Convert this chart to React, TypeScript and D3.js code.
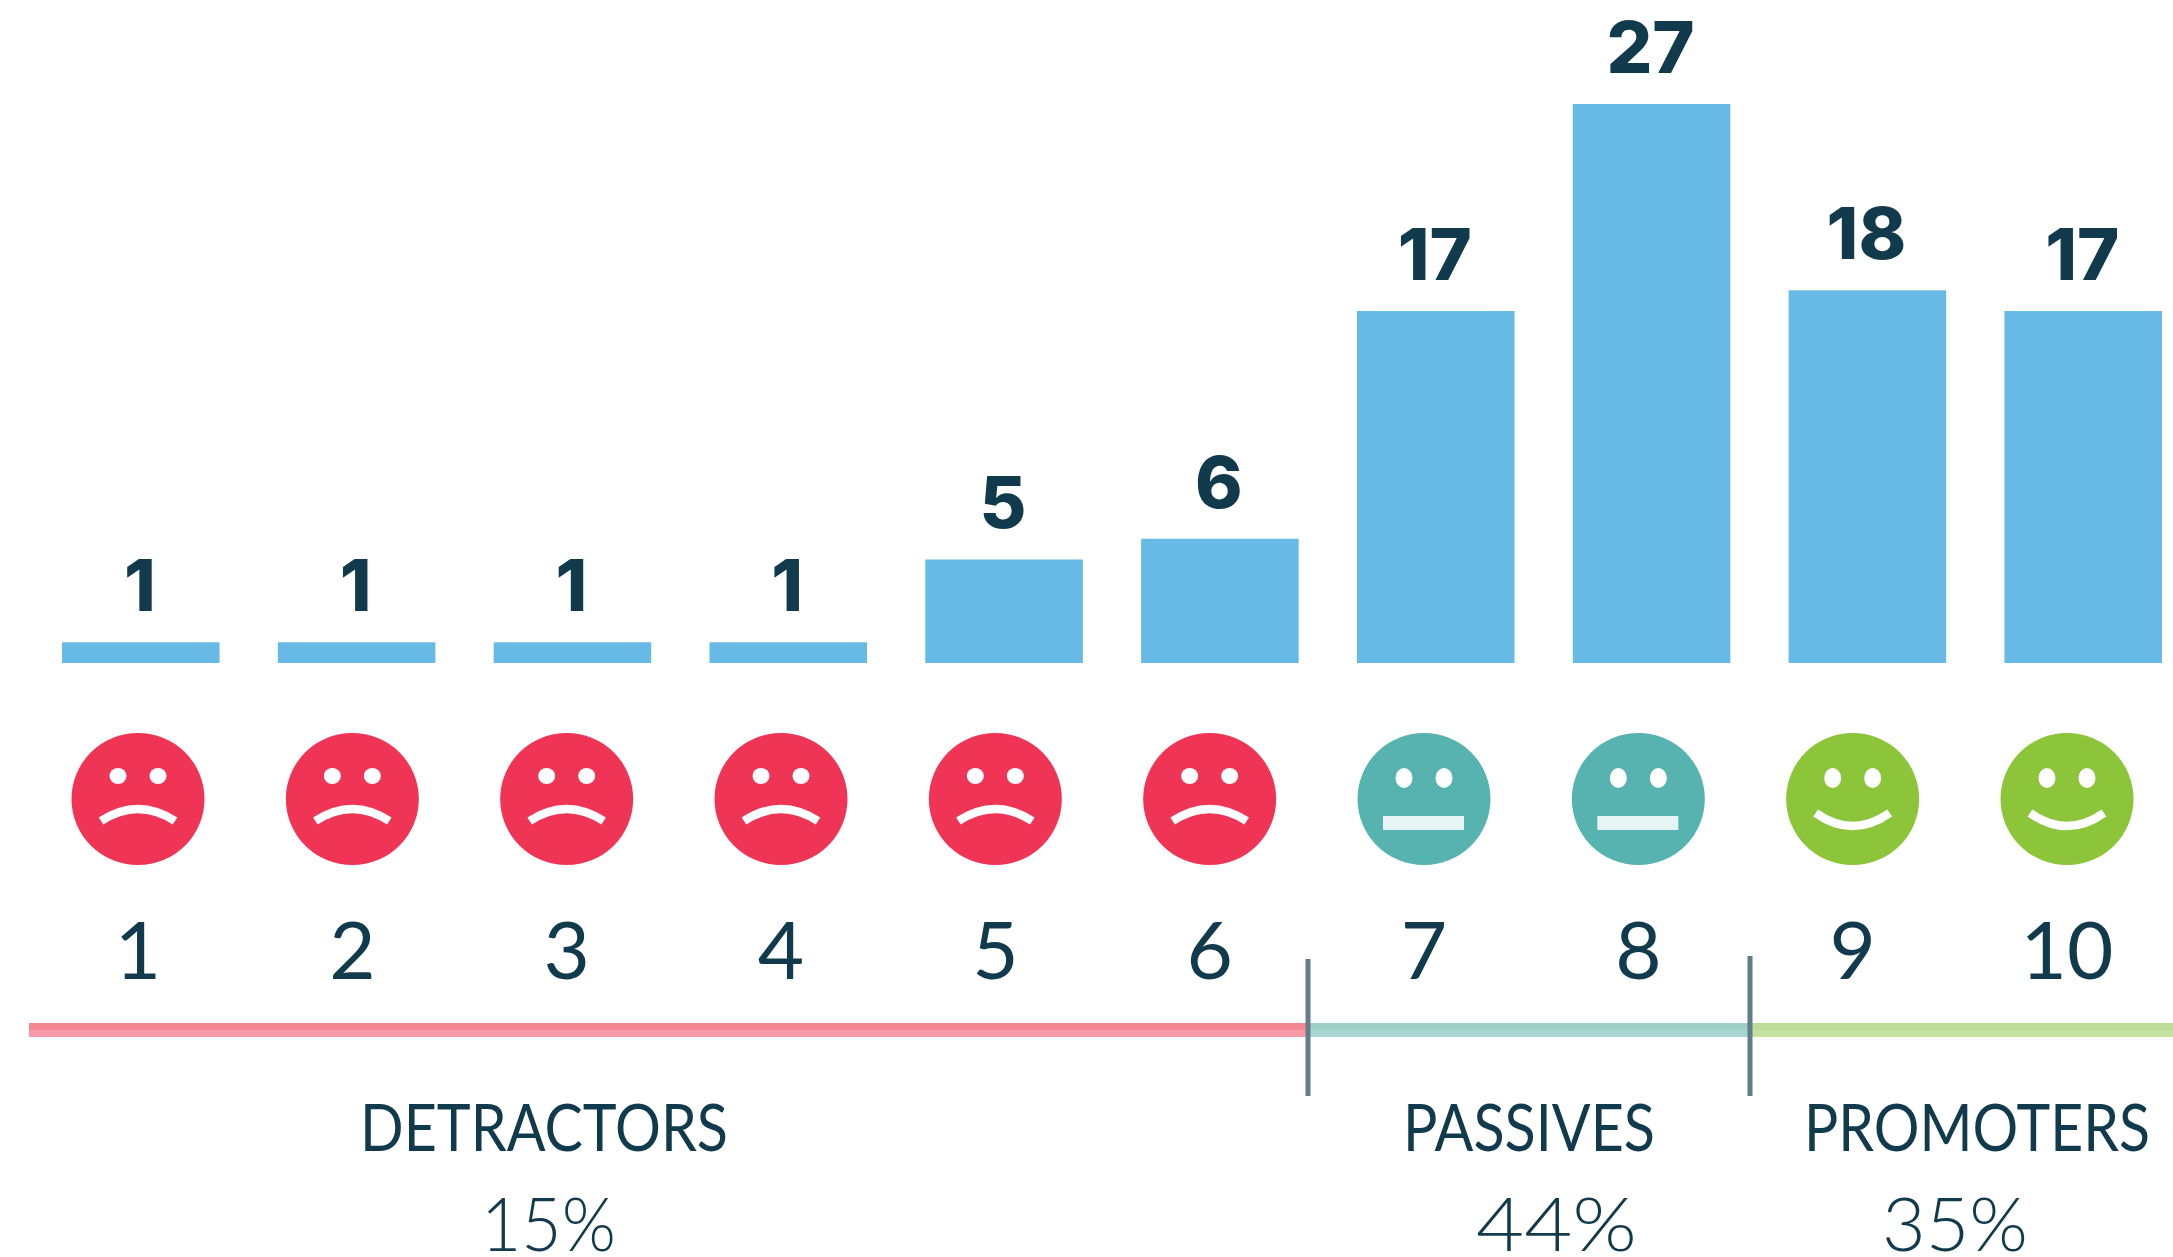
import * as d3 from 'd3'

const scores = ['1', '2', '3', '4', '5', '6', '7', '8', '9', '10']
const counts = [1, 1, 1, 1, 5, 6, 17, 27, 18, 17]
const moods = ['sad', 'sad', 'sad', 'sad', 'sad', 'sad', 'flat', 'flat', 'happy', 'happy']
const groupNames = ['DETRACTORS', 'PASSIVES', 'PROMOTERS']
const groupShares = ['15%', '44%', '35%']

const NAVY = '#123a4d'
const BAR = '#67b9e6'
const moodColor: Record<string, string> = { sad: '#f03455', flat: '#56b3b0', happy: '#8cc43a' }
const lineColor = ['#f4868f', '#9ecfc8', '#bfdc96']
const lineColorLow = ['#f79aa9', '#aad6d0', '#c5e0a0']

// layout of the bottom strip, one entry per group
const lineStart = [29, 1308, 1750]
const lineEnd = [1308, 1750, 2173]
const nameX = [360, 1403, 1804]
const nameW = [368, 252, 346]
const shareX = [481, 1476, 1882]
const shareW = [135, 161, 146]
const dividerTop = [959, 956]
const dividerX = [1308, 1750]

const x = d3.scaleBand<string>().domain(scores).range([62, 2162]).paddingInner(0.27)
const y = d3.scaleLinear().domain([0, 27]).range([663, 104])
const faceX = d3.scalePoint<string>().domain(scores).range([138, 2067])

function mouthPath(mood: string) {
  const p = d3.path()
  if (mood === 'sad') {
    p.moveTo(-37, 22)
    p.quadraticCurveTo(0, -2, 37, 22)
  } else {
    p.moveTo(-37, 14)
    p.quadraticCurveTo(0, 40, 37, 14)
  }
  return p.toString()
}

function Face({ score, mood }: { score: string; mood: string }) {
  const eyeY = mood === 'sad' ? -23 : -21
  const eyeRy = mood === 'sad' ? 8 : 10
  return (
    <g transform={`translate(${faceX(score)},799)`}>
      <ellipse rx={66.5} ry={66} fill={moodColor[mood]} />
      <ellipse cx={-20} cy={eyeY} rx={8.5} ry={eyeRy} fill="#fff" />
      <ellipse cx={20} cy={eyeY} rx={8.5} ry={eyeRy} fill="#fff" />
      {mood === 'flat' ? (
        <rect x={-41} y={17} width={81} height={14} fill="#fff" opacity={0.85} />
      ) : (
        <path d={mouthPath(mood)} fill="none" stroke="#fff" strokeWidth={8.5} />
      )}
    </g>
  )
}

export default function App() {
  return (
    <svg
      width={2173}
      height={1257}
      style={{ position: 'absolute', left: 0, top: 0, display: 'block', background: '#fff' }}
    >
      {counts.map((c, i) => (
        <g key={scores[i]}>
          <rect
            x={x(scores[i])}
            y={y(c)}
            width={x.bandwidth()}
            height={y(0) - y(c)}
            fill={BAR}
          />
          <text
            x={x(scores[i])! + x.bandwidth() / 2 - 1}
            y={y(c) - 31}
            textAnchor="middle"
            fontFamily="Inter"
            fontWeight={800}
            fontSize={72}
            fill={NAVY}
          >
            {c}
          </text>
        </g>
      ))}

      {scores.map((s, i) => (
        <g key={s}>
          <Face score={s} mood={moods[i]} />
          <text
            x={faceX(s)}
            y={979}
            textAnchor="middle"
            fontFamily="Lato"
            fontWeight={400}
            fontSize={80}
            fill={NAVY}
          >
            {s}
          </text>
        </g>
      ))}

      {groupNames.map((name, i) => (
        <g key={name}>
          <rect
            x={lineStart[i]}
            y={1023}
            width={lineEnd[i] - lineStart[i]}
            height={7}
            fill={lineColor[i]}
          />
          <rect
            x={lineStart[i]}
            y={1030}
            width={lineEnd[i] - lineStart[i]}
            height={7}
            fill={lineColorLow[i]}
          />
          <text
            x={nameX[i]}
            y={1151}
            fontFamily="Lato"
            fontWeight={400}
            fontSize={65}
            fill={NAVY}
            textLength={nameW[i]}
            lengthAdjust="spacingAndGlyphs"
          >
            {name}
          </text>
          <text
            x={shareX[i]}
            y={1251}
            fontFamily="Lato"
            fontWeight={300}
            fontSize={75}
            fill={NAVY}
            textLength={shareW[i]}
            lengthAdjust="spacingAndGlyphs"
          >
            {groupShares[i]}
          </text>
        </g>
      ))}

      {dividerX.map((dx, i) => (
        <line key={dx} x1={dx} x2={dx} y1={dividerTop[i]} y2={1096} stroke="#5f7d8a" strokeWidth={5} />
      ))}
    </svg>
  )
}
